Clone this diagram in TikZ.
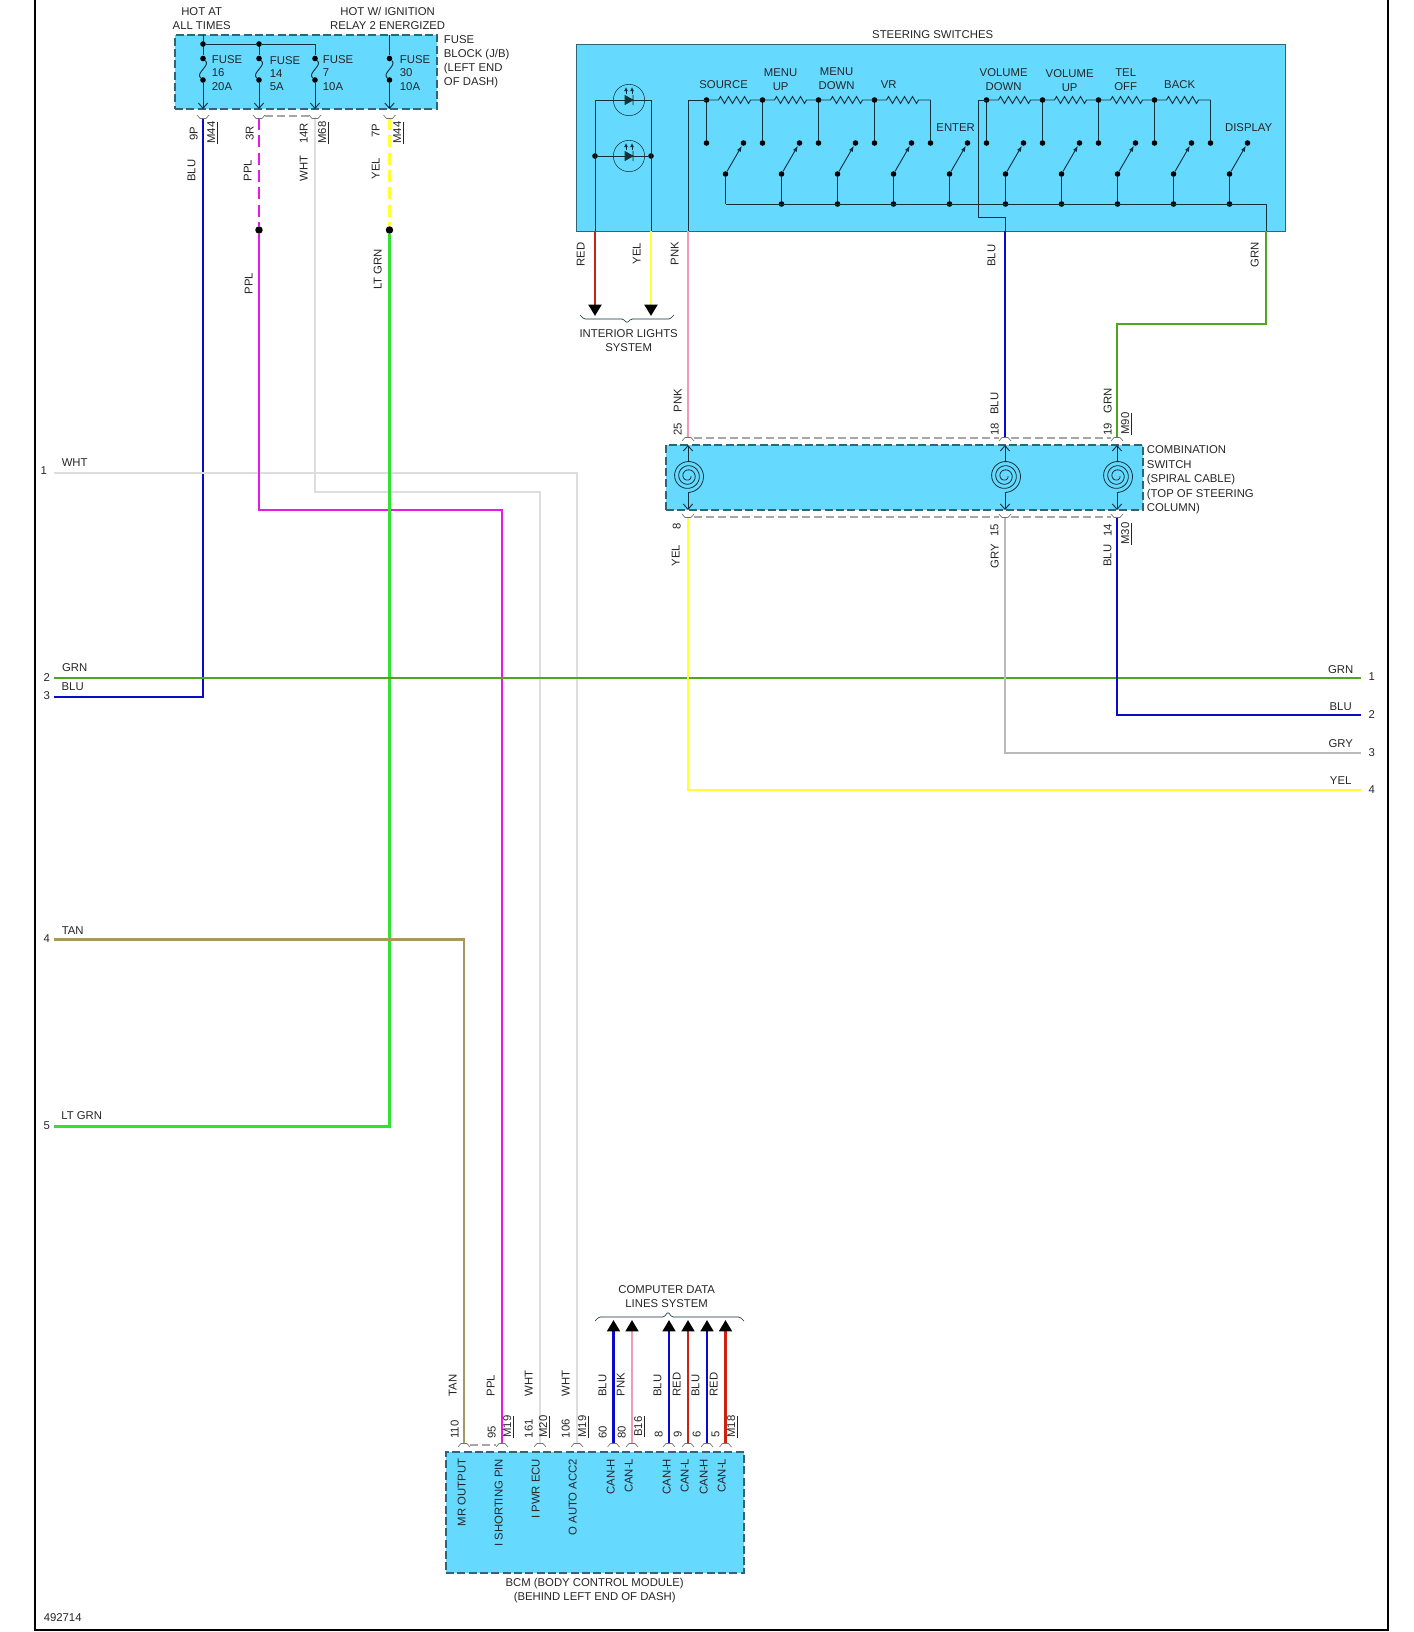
\documentclass[tikz,border=0pt]{standalone}
\usepackage{fontspec}
\setmainfont{Liberation Sans}
\usetikzlibrary{arrows.meta}
\usetikzlibrary{decorations.pathmorphing}

\definecolor{boxblue}{HTML}{66D9FF}
\definecolor{boxedge}{HTML}{2E6577}
\definecolor{wireblu}{HTML}{0A0ACC}
\definecolor{wiregrn}{HTML}{4DA61E}
\definecolor{wirelgrn}{HTML}{33E033}
\definecolor{wireppl}{HTML}{E619E6}
\definecolor{wireyel}{HTML}{FFFF33}
\definecolor{wirepnk}{HTML}{F299B3}
\definecolor{wirewht}{HTML}{DDDDDD}
\definecolor{wiregry}{HTML}{BBBBBB}
\definecolor{wiretan}{HTML}{A89860}
\definecolor{wirered}{HTML}{CC2211}
\definecolor{innerline}{HTML}{10303C}

\tikzset{
  cupdown/.pic={\draw[conn] (-6,-3) -- (-3,0.5) -- (3,0.5) -- (6,-3);},
  cupup/.pic={\draw[conn] (-6,3) -- (-3,-0.5) -- (3,-0.5) -- (6,3);},
  spiral/.pic={\draw[inner,line width=0.6pt] plot[domain=0:1170,samples=150,smooth]
    ({(3+\x/1170*13.5)*cos(\x)},{(3+\x/1170*13.5)*sin(\x)});}
}

\begin{document}
\begin{tikzpicture}[x=0.75pt,y=-0.75pt,
    lbl/.style={inner sep=0pt,align=center,text=black!85,xshift=0.5pt,yshift=-0.8pt,font=\fontsize{8.5}{10.5}\selectfont},
    vlbl/.style={lbl,rotate=90,xshift=0.4pt,yshift=0.8pt},
    block/.style={fill=boxblue,draw=boxedge,line width=1.1pt,dash pattern=on 6pt off 2.5pt,inner sep=0pt},
    solidblock/.style={fill=boxblue,draw=boxedge,line width=0.6pt,inner sep=0pt},
    wire/.style={line width=1.9pt},
    inner/.style={draw=innerline,line width=0.7pt},
    conn/.style={draw=black!55,line width=0.5pt},
    conndash/.style={draw=black!35,line width=0.8pt,dash pattern=on 6pt off 3pt},
    dot/.style={circle,fill=black,inner sep=0pt,minimum size=4.2pt},
    bigdot/.style={circle,fill=black,inner sep=0pt,minimum size=5.6pt},
    res/.style={inner,decorate,decoration={zigzag,segment length=6pt,amplitude=2.6pt,pre length=9pt,post length=9pt}},
    tip/.style={-{Triangle[width=9.5pt,length=8.5pt,black]}},
    vee/.style={-{Straight Barb[width=7pt,length=4pt]}}]
\useasboundingbox (0,0) rectangle (1414,1632);

% frame
\coordinate (frametl) at (35,0);
\coordinate (framebl) at (35,1630);
\coordinate (framebr) at (1388,1630);
\coordinate (frametr) at (1388,0);
\draw[line width=1.8pt] (frametl) -- (framebl) -- (framebr) -- (frametr);

% blocks
\node[block,minimum width=196.5pt,minimum height=55.5pt] (fuseblock) at (306,72) {};
\node[solidblock,minimum width=531.75pt,minimum height=140.25pt] (switches) at (930.5,137.5) {};
\node[block,minimum width=358pt,minimum height=48.75pt] (combo) at (904.5,477.5) {};
\node[block,minimum width=223.5pt,minimum height=90.75pt] (bcm) at (595,1512.5) {};

% wire ends
\coordinate (pinwht) at (54,473);
\coordinate (pingrn) at (54,678);
\coordinate (pinblu) at (54,697);
\coordinate (pintan) at (54,939.5);
\coordinate (pinlgrn) at (54,1126.5);
\coordinate (outgrn) at (1361,678);
\coordinate (outblu) at (1361,715);
\coordinate (outgry) at (1361,753);
\coordinate (outyel) at (1361,790);
\coordinate (m44a) at (203,118);
\coordinate (m68a) at (259,118);
\coordinate (m68b) at (315,118);
\coordinate (m44b) at (389.5,118);
\coordinate (c25) at (688,438);
\coordinate (c18) at (1005,438);
\coordinate (c19) at (1117,438);
\coordinate (c8) at (688,517);
\coordinate (c15) at (1005,517);
\coordinate (c14) at (1117,517);
\coordinate (b110) at (464,1444);
\coordinate (b95) at (502,1444);
\coordinate (b161) at (540,1444);
\coordinate (b106) at (577,1444);
\coordinate (b60) at (613.5,1444);
\coordinate (b80) at (632,1444);
\coordinate (b8) at (669,1444);
\coordinate (b9) at (688,1444);
\coordinate (b6) at (707,1444);
\coordinate (b5) at (725.5,1444);
\node[bigdot] (spliceppl) at (259,230) {};
\node[bigdot] (spliceyel) at (389.5,230) {};

% wires
\draw[wire,wireblu] (m44a) |- (pinblu);
\draw[wire,wireppl,dash pattern=on 9pt off 4pt] (m68a) -- (spliceppl);
\draw[wire,wireyel,dash pattern=on 9pt off 4pt] (m44b) -- (spliceyel);
\draw[wire,wirewht] (pinwht) -| (b106);
\draw[wire,wirewht] (m68b) |- (b161 |- 0,492) -- (b161);
\draw[wire,wireppl] (spliceppl) |- (b95 |- 0,510) -- (b95);
\draw[wire,wirelgrn] (spliceyel) |- (pinlgrn);
\draw[wire,wiretan] (pintan) -| (b110);
\draw[wire,wiregrn] (pingrn) -- (outgrn);
\draw[wire,wireyel] (c8) |- (outyel);
\draw[wire,wiregry] (c15) |- (outgry);
\draw[wire,wireblu] (c14) |- (outblu);
\coordinate (swpnk) at (688,231);
\coordinate (swblu) at (1005,231);
\coordinate (swgrn) at (1266,231);
\coordinate (swred) at (595,231);
\coordinate (swyel) at (651,231);
\draw[wire,wirepnk] (swpnk) -- (c25);
\draw[wire,wireblu] (swblu) -- (c18);
\draw[wire,wiregrn] (swgrn) |- (c19 |- 0,324) -- (c19);
\coordinate (lightred) at (595,316);
\coordinate (lightyel) at (651,316);
\draw[wire,line width=2.2pt,wirered,tip] (swred) -- (lightred);
\draw[wire,line width=2.2pt,wireyel,tip] (swyel) -- (lightyel);
\coordinate (datablua) at (613.5,1320);
\coordinate (datapnk) at (632,1320);
\coordinate (datablub) at (669,1320);
\coordinate (datareda) at (688,1320);
\coordinate (databluc) at (707,1320);
\coordinate (dataredb) at (725.5,1320);
\draw[wire,wireblu,tip] (b60) -- (datablua);
\draw[wire,wirepnk,tip] (b80) -- (datapnk);
\draw[wire,wireblu,tip] (b8) -- (datablub);
\draw[wire,wirered,tip] (b9) -- (datareda);
\draw[wire,wireblu,tip] (b6) -- (databluc);
\draw[wire,wirered,tip] (b5) -- (dataredb);

% connector marks
\foreach \c in {m44a,m68a,m68b,m44b,c8,c15,c14}
  \pic at (\c) {cupdown};
\foreach \c in {c25,c18,c19,b110,b95,b161,b106,b60,b80,b8,b9,b6,b5}
  \pic at (\c) {cupup};
\draw[conndash] (265,116) -- (309,116);
\draw[conndash] (694,438) -- (999,438);
\draw[conndash] (1011,438) -- (1111,438);
\draw[conndash] (694,517) -- (999,517);
\draw[conndash] (1011,517) -- (1111,517);
\draw[conndash] (470,1445) -- (496,1445);

% fuse block
\coordinate (fusebus) at (315,44);
\foreach \n/\x/\t in {a/203/35,b/259/44,c/315/44,d/389.5/35} {
  \coordinate (fusetop\n) at (\x,\t);
  \coordinate (fuseend\n) at (\x,109);
  \node[dot] (fusein\n) at (\x,58.5) {};
  \node[dot] (fuseout\n) at (\x,80) {};
  \draw[inner] (fusetop\n) -- (fusein\n);
  \draw[inner] (fusein\n) .. controls +(8,7) and +(-8,-7) .. (fuseout\n);
  \draw[inner,vee] (fuseout\n) -- (fuseend\n);
}
\node[dot] (fusebusa) at (203,44) {};
\node[dot] (fusebusb) at (259,44) {};
\draw[inner] (fusebusa) -- (fusebusb) -- (fusebus);

% lamps
\coordinate (lampal) at (595,100);
\coordinate (lampar) at (651,100);
\node[dot] (lampbl) at (595,156) {};
\node[dot] (lampbr) at (651,156) {};
\foreach \n/\y in {a/100,b/156} {
  \node[circle,draw=innerline,line width=0.4pt,inner sep=0pt,minimum size=23.5pt] (lamp\n) at (629,\y) {};
  \draw[fill=innerline,draw=innerline,line width=0.5pt] (625,\y-4.5) -- (625,\y+4.5) -- (633,\y) -- cycle (633,\y-5) -- (633,\y+5);
  \draw[inner,line width=0.6pt,-{Latex[length=3pt,width=3pt]}] (626,\y-6) -- (626,\y-13);
  \draw[inner,line width=0.6pt,-{Latex[length=3pt,width=3pt]}] (632,\y-6) -- (632,\y-13);
}
\draw[inner] (swred) -- (lampal) -- (lampar) -- (swyel);
\draw[inner] (lampbl) -- (lampbr);

% switches
\foreach \i in {0,...,9} {
  \coordinate (tap\i) at (706.5+56*\i,100);
  \coordinate (bus\i) at (725.5+56*\i,204);
  \node[dot] (low\i) at (706.5+56*\i,143) {};
  \node[dot] (cont\i) at (743.5+56*\i,143) {};
  \node[dot] (pivot\i) at (725.5+56*\i,174) {};
  \draw[inner] (tap\i) -- (low\i);
  \draw[inner] (pivot\i) -- (bus\i);
  \draw[inner,-{Latex[length=4.5pt,width=3.2pt]}] (pivot\i) -- (cont\i);
}
\foreach \i in {1,...,9}
  \node[dot] (busdot\i) at (bus\i) {};
\foreach \i in {0,1,2,3,5,6,7,8}
  \node[dot] (tapdot\i) at (tap\i) {};
\foreach \a/\b in {0/1,1/2,2/3,3/4,5/6,6/7,7/8,8/9}
  \draw[res] (tap\a) -- (tap\b);
\draw[inner] (swpnk) |- (tap0);
\coordinate (buscorner) at (1266,204);
\draw[inner] (bus0) -- (buscorner) -- (swgrn);
\coordinate (volleft) at (978.5,100);
\coordinate (volelbow) at (978.5,217);
\draw[inner] (tap5) -- (volleft) -- (volelbow) -| (swblu);

% spiral cables
\foreach \n/\x in {a/688,b/1005,c/1117} {
  \coordinate (spiraltop\n) at (\x,445);
  \coordinate (spiralupper\n) at (\x,461.5);
  \coordinate (spirallower\n) at (\x,492.5);
  \coordinate (spiralend\n) at (\x,510);
  \pic at (\x,476) {spiral};
  \draw[inner,vee] (spiralupper\n) -- (spiraltop\n);
  \draw[inner,vee] (spirallower\n) -- (spiralend\n);
}

% braces
\draw[inner,line width=0.5pt,rounded corners=1pt] (580,315) -- (584,319) -- (623,319) -- (627,323) -- (631,319) -- (670,319) -- (674,315);
\draw[inner,line width=0.5pt,rounded corners=1pt] (595,1321) -- (599,1317) -- (664,1317) -- (668,1312) -- (672,1317) -- (740,1317) -- (744,1321);

% top texts
\node[lbl] (hotat) at (201,17.5) {HOT AT\\ALL TIMES};
\node[lbl] (hotign) at (387,17.5) {HOT W/ IGNITION\\RELAY 2 ENERGIZED};
\node[lbl,align=left,anchor=west] (fusename) at (443,61) {FUSE\\BLOCK (J/B)\\(LEFT END\\OF DASH)};
\node[lbl,align=left,anchor=west,font=\fontsize{8.5}{9.8}\selectfont] (fuse16) at (211,72) {FUSE\\16\\20A};
\node[lbl,align=left,anchor=west,font=\fontsize{8.5}{9.8}\selectfont] (fuse14) at (269,72.5) {FUSE\\14\\5A};
\node[lbl,align=left,anchor=west,font=\fontsize{8.5}{9.8}\selectfont] (fuse7) at (322,72) {FUSE\\7\\10A};
\node[lbl,align=left,anchor=west,font=\fontsize{8.5}{9.8}\selectfont] (fuse30) at (399,72) {FUSE\\30\\10A};
\node[vlbl] (pin9p) at (194,133) {9P};
\node[vlbl] (conm44a) at (213,132) {\underline{M44}};
\node[vlbl] (lblblua) at (192,170) {BLU};
\node[vlbl] (pin3r) at (250,133) {3R};
\node[vlbl] (lblppla) at (248,170) {PPL};
\node[vlbl] (pin14r) at (304,133) {14R};
\node[vlbl] (lblwhta) at (304,168) {WHT};
\node[vlbl] (conm68) at (324,132) {\underline{M68}};
\node[vlbl] (pin7p) at (376,130) {7P};
\node[vlbl] (lblyela) at (376,168) {YEL};
\node[vlbl] (conm44b) at (399,132) {\underline{M44}};
\node[vlbl] (lblpplb) at (249,283) {PPL};
\node[vlbl] (lbllgrn) at (378,269) {LT GRN};

% switch texts
\node[lbl] (swname) at (932,34) {STEERING SWITCHES};
\node[lbl] (swsource) at (723,84) {SOURCE};
\node[lbl] (swmenuup) at (780,79) {MENU\\UP};
\node[lbl] (swmenudown) at (836,78) {MENU\\DOWN};
\node[lbl] (swvr) at (888,84) {VR};
\node[lbl] (swenter) at (955,127) {ENTER};
\node[lbl] (swvoldown) at (1003,78.5) {VOLUME\\DOWN};
\node[lbl] (swvolup) at (1069,79.5) {VOLUME\\UP};
\node[lbl] (swtel) at (1125,79) {TEL\\OFF};
\node[lbl] (swback) at (1179,84) {BACK};
\node[lbl] (swdisplay) at (1248,127) {DISPLAY};
\node[vlbl] (lblredsw) at (581,254) {RED};
\node[vlbl] (lblyelsw) at (637,253) {YEL};
\node[vlbl] (lblpnksw) at (675,253) {PNK};
\node[vlbl] (lblblusw) at (992,255) {BLU};
\node[vlbl] (lblgrnsw) at (1255,254) {GRN};
\node[lbl] (lights) at (628,340) {INTERIOR LIGHTS\\SYSTEM};

% combination switch texts
\node[vlbl] (lblpnkc) at (678,400) {PNK};
\node[vlbl] (pin25) at (678,429) {25};
\node[vlbl] (lblbluc) at (995,403) {BLU};
\node[vlbl] (pin18) at (995,429) {18};
\node[vlbl] (lblgrnc) at (1108,400) {GRN};
\node[vlbl] (pin19) at (1108,429) {19};
\node[vlbl] (conm90) at (1127,423) {\underline{M90}};
\node[vlbl] (pin8) at (677,526) {8};
\node[vlbl] (lblyelc) at (676,555) {YEL};
\node[vlbl] (pin15) at (995,530) {15};
\node[vlbl] (lblgryc) at (995,556) {GRY};
\node[vlbl] (pin14) at (1108,530) {14};
\node[vlbl] (lblbluf) at (1108,555) {BLU};
\node[vlbl] (conm30) at (1127,533) {\underline{M30}};
\node[lbl,align=left,anchor=west,font=\fontsize{8.5}{10.9}\selectfont] (comboname) at (1146,479) {COMBINATION\\SWITCH\\(SPIRAL CABLE)\\(TOP OF STEERING\\COLUMN)};

% left and right pins
\node[lbl] (left1) at (43,470) {1};
\node[lbl] (leftwht) at (74,462) {WHT};
\node[lbl] (left2) at (46,676) {2};
\node[lbl] (leftgrn) at (74,667) {GRN};
\node[lbl] (leftblu) at (72,686) {BLU};
\node[lbl] (left3) at (46,695) {3};
\node[lbl] (left4) at (46,938) {4};
\node[lbl] (lefttan) at (72,930) {TAN};
\node[lbl] (left5) at (46,1125) {5};
\node[lbl] (leftlgrn) at (81,1115) {LT GRN};
\node[lbl] (rightgrn) at (1340,669) {GRN};
\node[lbl] (right1) at (1371,676) {1};
\node[lbl] (rightblu) at (1340,706) {BLU};
\node[lbl] (right2) at (1371,713) {2};
\node[lbl] (rightgry) at (1340,743) {GRY};
\node[lbl] (right3) at (1371,752) {3};
\node[lbl] (rightyel) at (1340,780) {YEL};
\node[lbl] (right4) at (1371,789) {4};

% bcm texts
\node[lbl] (datalines) at (666,1296) {COMPUTER DATA\\LINES SYSTEM};
\node[vlbl] (lbltanb) at (453,1385) {TAN};
\node[vlbl] (lblpplc) at (491,1385) {PPL};
\node[vlbl] (lblwhtb) at (529,1383) {WHT};
\node[vlbl] (lblwhtc) at (566,1383) {WHT};
\node[vlbl] (lblblub) at (603,1385) {BLU};
\node[vlbl] (lblpnkb) at (621,1384) {PNK};
\node[vlbl] (lblbluh) at (658,1385) {BLU};
\node[vlbl] (lblredb) at (677,1384) {RED};
\node[vlbl] (lblbluj) at (696,1385) {BLU};
\node[vlbl] (lblredc) at (714,1384) {RED};
\node[vlbl] (pin110) at (455,1429) {110};
\node[vlbl] (pin95) at (492,1432) {95};
\node[vlbl] (conm19a) at (509,1426) {\underline{M19}};
\node[vlbl] (pin161) at (529,1428) {161};
\node[vlbl] (conm20) at (545,1426) {\underline{M20}};
\node[vlbl] (pin106) at (566,1428) {106};
\node[vlbl] (conm19b) at (584,1426) {\underline{M19}};
\node[vlbl] (pin60) at (603,1432) {60};
\node[vlbl] (pin80) at (622,1432) {80};
\node[vlbl] (conb16) at (640,1426) {\underline{B16}};
\node[vlbl] (pinb8) at (659,1434) {8};
\node[vlbl] (pinb9) at (678,1434) {9};
\node[vlbl] (pinb6) at (697,1434) {6};
\node[vlbl] (pinb5) at (716,1434) {5};
\node[vlbl] (conm18) at (733,1426) {\underline{M18}};
\node[vlbl,anchor=east] (bcmmr) at (462,1458) {MR OUTPUT};
\node[vlbl,anchor=east] (bcmshort) at (499,1458) {I SHORTING PIN};
\node[vlbl,anchor=east] (bcmpwr) at (536,1458) {I PWR ECU};
\node[vlbl,anchor=east] (bcmacc) at (573,1458) {O AUTO ACC2};
\node[vlbl,anchor=east] (bcmcana) at (611,1458) {CAN-H};
\node[vlbl,anchor=east] (bcmcanb) at (629,1458) {CAN-L};
\node[vlbl,anchor=east] (bcmcanc) at (667,1458) {CAN-H};
\node[vlbl,anchor=east] (bcmcand) at (685,1458) {CAN-L};
\node[vlbl,anchor=east] (bcmcane) at (704,1458) {CAN-H};
\node[vlbl,anchor=east] (bcmcanf) at (722,1458) {CAN-L};
\node[lbl] (bcmname) at (594,1589) {BCM (BODY CONTROL MODULE)\\(BEHIND LEFT END OF DASH)};
\node[lbl] (refnumber) at (62,1617) {492714};
\end{tikzpicture}
\end{document}
